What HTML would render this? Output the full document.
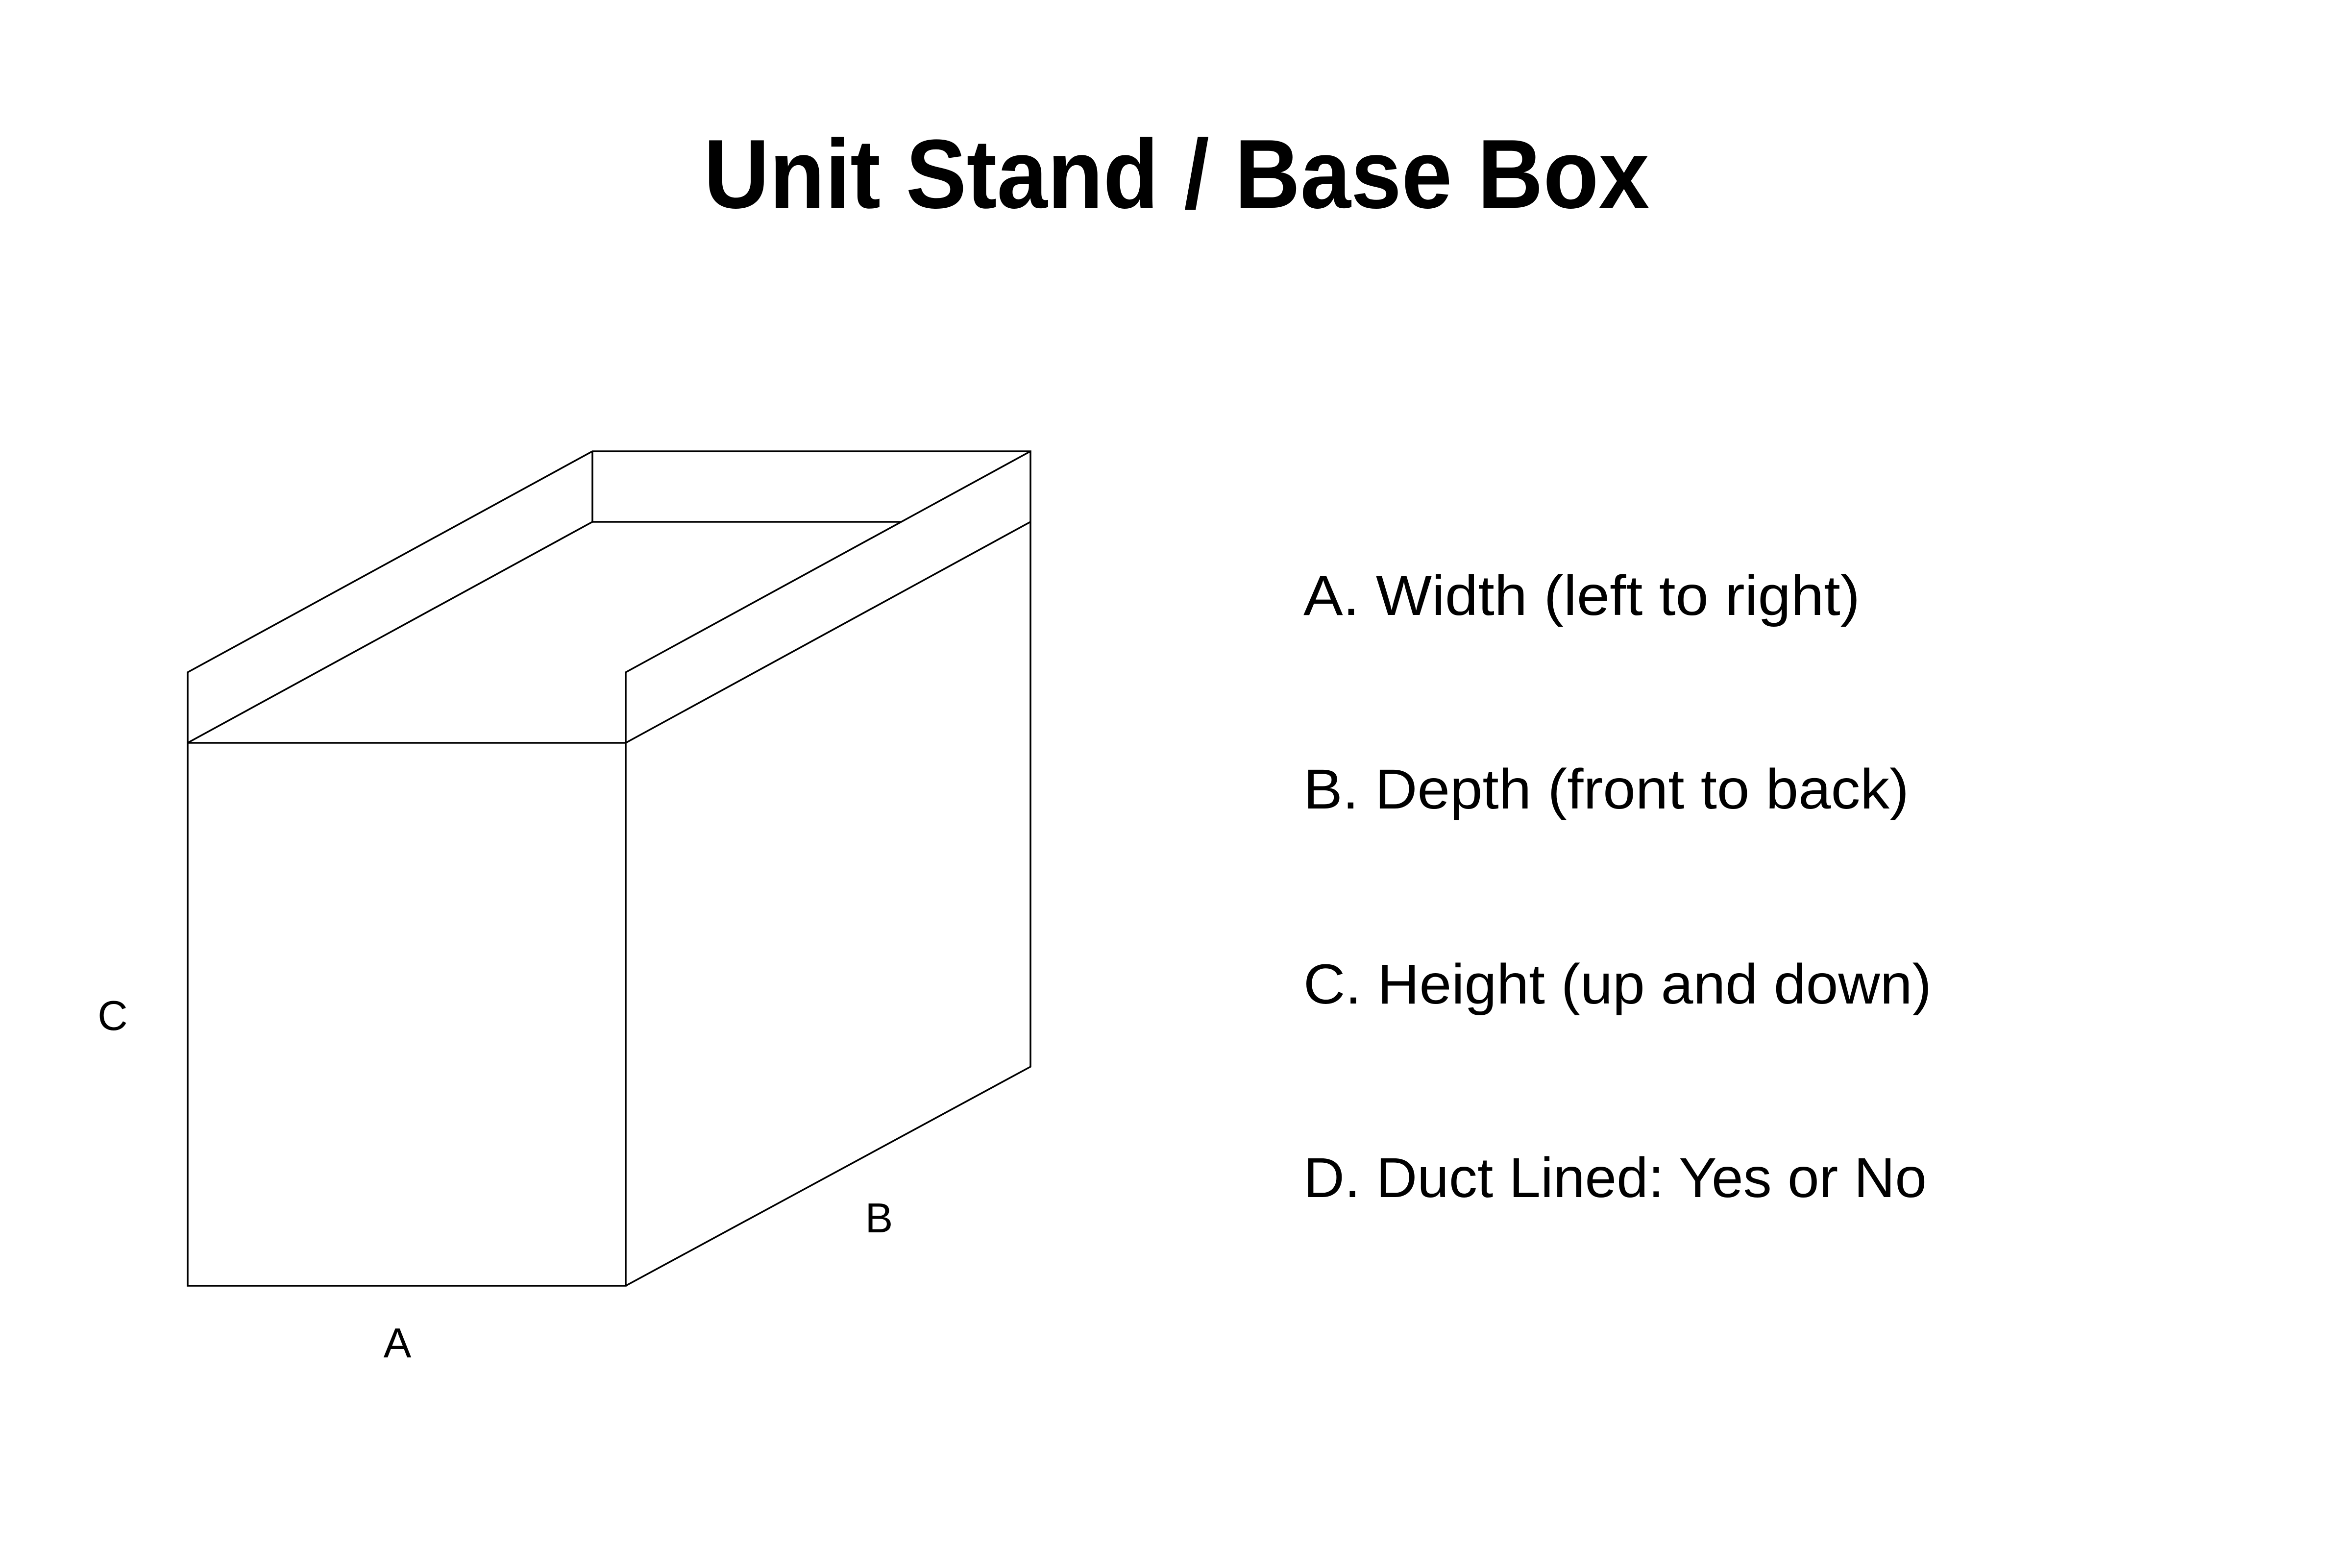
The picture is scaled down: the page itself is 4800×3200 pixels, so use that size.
<!DOCTYPE html>
<html><head><meta charset="utf-8"><style>html,body{margin:0;padding:0;background:#fff}svg{display:block}</style></head>
<body>
<svg width="4800" height="3200" viewBox="0 0 4800 3200" xmlns="http://www.w3.org/2000/svg" font-family="Liberation Sans, Arial, sans-serif">
<rect width="4800" height="3200" fill="#fff"/>
<text x="1436" y="424" font-size="200" font-weight="bold" textLength="1930" lengthAdjust="spacingAndGlyphs">Unit Stand / Base Box</text>
<g fill="none" stroke="#000" stroke-width="3.5" stroke-linejoin="miter">
<rect x="383" y="1516" width="894" height="1108"/>
<polyline points="1277,2624 2103,2177 2103,921 1209,921 383,1372 383,1516"/>
<line x1="383" y1="1516" x2="1209" y2="1065"/>
<line x1="1209" y1="921" x2="1209" y2="1065"/>
<line x1="1209" y1="1065" x2="1839" y2="1065"/>
<line x1="1277" y1="1516" x2="2103" y2="1065"/>
<polyline points="1277,1516 1277,1372 2103,921"/>
</g>
<g font-size="85">
<text x="230" y="2102" text-anchor="middle">C</text>
<text x="811" y="2770" text-anchor="middle">A</text>
<text x="1794" y="2515" text-anchor="middle">B</text>
</g>
<g font-size="115">
<text x="2660" y="1255" textLength="1136" lengthAdjust="spacingAndGlyphs">A. Width (left to right)</text>
<text x="2660" y="1650" textLength="1236" lengthAdjust="spacingAndGlyphs">B. Depth (front to back)</text>
<text x="2660" y="2048" textLength="1282" lengthAdjust="spacingAndGlyphs">C. Height (up and down)</text>
<text x="2660" y="2443" textLength="1272" lengthAdjust="spacingAndGlyphs">D. Duct Lined: Yes or No</text>
</g>
</svg>
</body></html>
